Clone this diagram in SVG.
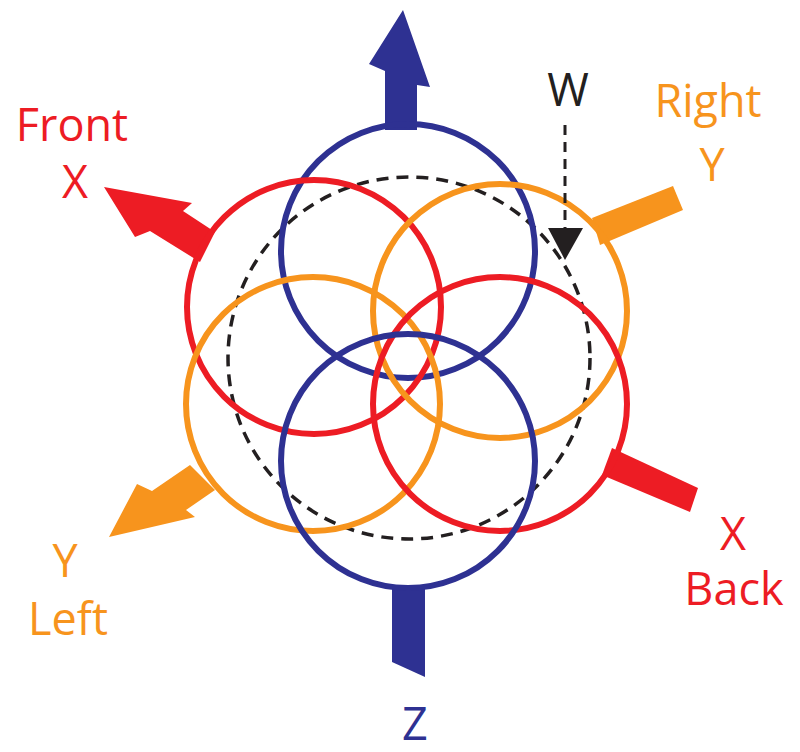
<svg xmlns="http://www.w3.org/2000/svg" width="800" height="752" viewBox="0 0 800 752">
<style>
.c{fill:none;stroke-width:6}
.b{stroke:#2e3192}.r{stroke:#ed1c24}.o{stroke:#f7941d}
.t{font-family:"Open Sans","Liberation Sans",sans-serif;font-size:45px;text-anchor:middle}
</style>
<rect width="800" height="752" fill="#fff"/>
<g id="arrows">
<polygon id="arrow-z-up" fill="#2e3192" points="403,10 369,64 385,71 385,130 417,130 417,85 430,87"/>
<polygon id="arrow-z-down" fill="#2e3192" points="392,585 425,585 425,677 392,662"/>
<polygon id="arrow-x-front" fill="#ed1c24" points="104,187 192,203 183,211 215,232 200,262 150,231 135,237"/>
<polygon id="arrow-y-left" fill="#f7941d" points="109,537 137,484 152,491 190,465 215,490 186,510 195,517"/>
<polygon id="arrow-y-right" fill="#f7941d" points="592,218 673,186 683,210 600,245"/>
<polygon id="arrow-x-back" fill="#ed1c24" points="612,448 698,488 690,512 602,475"/>
</g>
<g id="circles">
<circle id="dashed" cx="409" cy="358" r="181" fill="none" stroke="#231f20" stroke-width="3.5" stroke-dasharray="12,8"/>
<circle id="blue-top" class="c b" cx="408" cy="251" r="127"/>
<circle id="red-ul" class="c r" cx="314" cy="307" r="127"/>
<circle id="orange-ur" class="c o" cx="500" cy="311" r="127"/>
<circle id="orange-ll" class="c o" cx="313" cy="404" r="127"/>
<circle id="red-lr" class="c r" cx="500" cy="404" r="127"/>
<circle id="blue-bot" class="c b" cx="408" cy="461" r="127"/>
</g>
<g id="connectors">
<line x1="565" y1="125" x2="565" y2="232" stroke="#231f20" stroke-width="3" stroke-dasharray="10,7"/>
<polygon points="548,228 583,228 565,260" fill="#231f20"/>
</g>
<g id="labels">
<text class="t" x="72" y="141" fill="#ed1c24">Front</text>
<text class="t" x="75" y="198" fill="#ed1c24">X</text>
<text class="t" x="708" y="117" fill="#f7941d">Right</text>
<text class="t" x="712" y="181" fill="#f7941d">Y</text>
<text class="t" x="568" y="106" fill="#231f20">W</text>
<text class="t" x="733" y="550" fill="#ed1c24">X</text>
<text class="t" x="734" y="605" fill="#ed1c24">Back</text>
<text class="t" x="65" y="577" fill="#f7941d">Y</text>
<text class="t" x="68" y="635" fill="#f7941d">Left</text>
<text class="t" x="415" y="740" fill="#2e3192">Z</text>
</g>
</svg>
